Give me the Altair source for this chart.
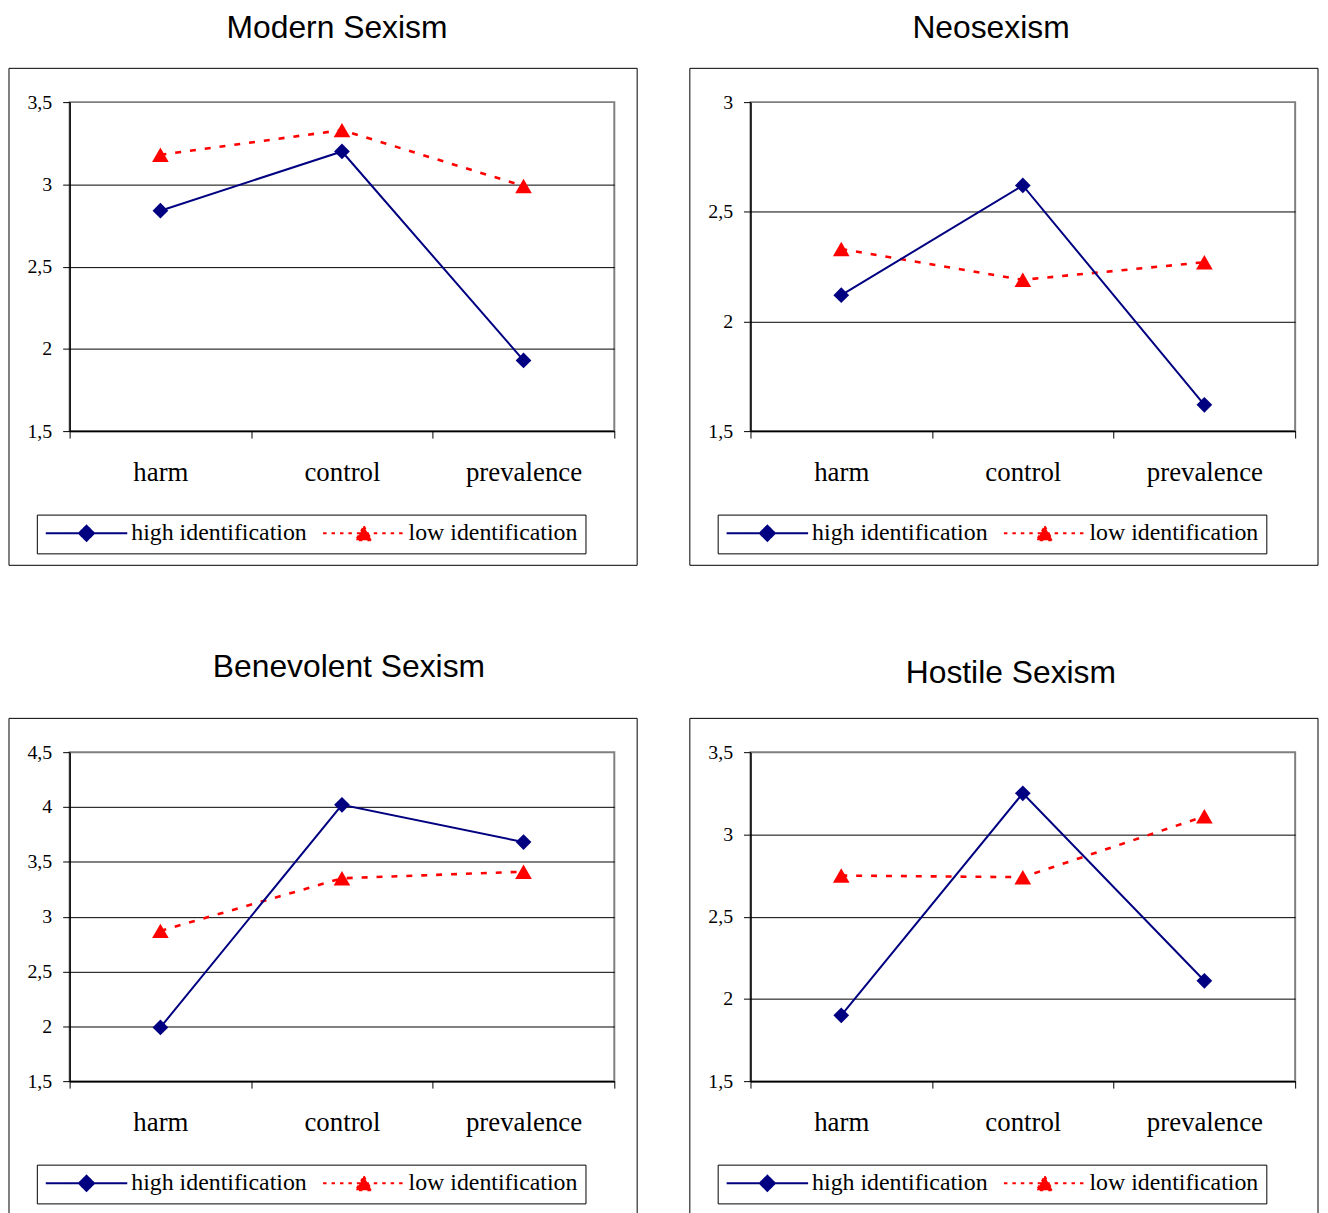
import altair as alt
import pandas as pd

# ---- data ----
categories = ["harm", "control", "prevalence"]
groups = ["high identification", "low identification"]

modern_high = [2.84, 3.20, 1.93]
modern_low = [3.18, 3.33, 2.99]
modern_ticks = [1.5, 2, 2.5, 3, 3.5]

neo_high = [2.12, 2.62, 1.62]
neo_low = [2.33, 2.19, 2.27]
neo_ticks = [1.5, 2, 2.5, 3]

benev_high = [1.99, 4.02, 3.68]
benev_low = [2.87, 3.35, 3.41]
benev_ticks = [1.5, 2, 2.5, 3, 3.5, 4, 4.5]

hostile_high = [1.90, 3.25, 2.11]
hostile_low = [2.75, 2.74, 3.11]
hostile_ticks = [1.5, 2, 2.5, 3, 3.5]

titles = ["Modern Sexism", "Neosexism", "Benevolent Sexism", "Hostile Sexism"]

# ---- styles ----
NAVY = "#000080"
RED = "#FF0000"
PLOT_DASH = [6, 9]
LEGEND_DASH = [3.5, 5]
W, H = 548, 331
SERIF = "Liberation Serif"
SANS = "Liberation Sans"

HIGH_PATH = "M-1,0L1,0M0,-0.185L0.185,0L0,0.185L-0.185,0Z"
LOW_PATH = "M-1,0L1,0M0,-0.17L0.195,0.17L-0.195,0.17Z"


def make_legend():
    return alt.Legend(
        title=None,
        orient="none",
        legendX=-33,
        legendY=415,
        direction="horizontal",
        padding=8,
        strokeColor="black",
        labelFont=SERIF,
        labelFontSize=24,
        labelColor="black",
        labelLimit=400,
        labelOffset=3,
        columnPadding=15,
        symbolSize=6724,
        symbolStrokeWidth=2,
        symbolOpacity=1,
        clipHeight=21,
    )


def panel(title, high, low, ticks, title_dx, title_dy):
    df = pd.DataFrame({
        "category": categories * 2,
        "group": [groups[0]] * 3 + [groups[1]] * 3,
        "value": list(high) + list(low),
    })
    ymax = ticks[-1]
    color_scale = alt.Scale(domain=groups, range=[NAVY, RED])
    dash_scale = alt.Scale(domain=groups, range=[[1, 0], LEGEND_DASH])
    base = alt.Chart(df).encode(
        x=alt.X(
            "category:N",
            sort=categories,
            bandPosition=0.5,
            scale=alt.Scale(type="band", paddingInner=0, paddingOuter=0),
            axis=alt.Axis(
                title=None, labelAngle=0, tickBand="extent", grid=False,
                labelFont=SERIF, labelFontSize=27, labelColor="black",
                tickSize=7, tickColor="black", tickWidth=1,
                domainColor="black", domainWidth=1.5, labelPadding=22,
            ),
        ),
        y=alt.Y(
            "value:Q",
            scale=alt.Scale(domain=[ticks[0], ymax], nice=False, zero=False),
            axis=alt.Axis(
                title=None, values=ticks,
                labelExpr="replace(format(datum.value, '~g'), '.', ',')",
                labelFont=SERIF, labelFontSize=20, labelColor="black",
                tickSize=7, tickColor="black", tickWidth=1,
                domainColor="black", domainWidth=1.5, labelPadding=11,
                grid=True, gridColor="black", gridWidth=1,
                gridOpacity={"condition": {"test": f"datum.value >= {ymax - 0.001}", "value": 0}, "value": 1},
            ),
        ),
    )
    high_data = base.transform_filter(alt.datum.group == groups[0])
    low_data = base.transform_filter(alt.datum.group == groups[1])
    line_high = high_data.mark_line(strokeWidth=2, color=NAVY)
    line_low = low_data.mark_line(strokeWidth=2.6, color=RED, strokeDash=PLOT_DASH)
    pts_high = high_data.mark_point(filled=True, opacity=1, size=250, shape="diamond", color=NAVY)
    pts_low = low_data.mark_point(filled=True, opacity=1, size=280, shape="triangle-up", color=RED)
    # legend carrier: draws nothing in the plot, only defines the legend entries
    legend_layer = base.transform_filter("false").mark_point(
        filled=True, opacity=1, strokeWidth=2
    ).encode(
        fill=alt.Fill("group:N", scale=color_scale, legend=make_legend()),
        stroke=alt.Stroke("group:N", scale=color_scale, legend=make_legend()),
        shape=alt.Shape("group:N", scale=alt.Scale(domain=groups, range=[HIGH_PATH, LOW_PATH]), legend=make_legend()),
        strokeDash=alt.StrokeDash("group:N", scale=dash_scale, legend=make_legend()),
    )
    frame = alt.Chart(alt.Data(values=[{"f": 1}])).mark_rect(
        fill="white", fillOpacity=0, stroke="black", strokeWidth=1
    ).encode(x=alt.value(-61), x2=alt.value(571), y=alt.value(-34), y2=alt.value(466))
    return alt.layer(frame, line_low, line_high, pts_high, pts_low, legend_layer).properties(
        width=W, height=H,
        title=alt.TitleParams(
            text=title, font=SANS, fontSize=32, fontWeight="normal", color="black",
            anchor="middle", frame="group", baseline="alphabetic",
            dx=title_dx, dy=title_dy, offset=0,
        ),
    )


p1 = panel(titles[0], modern_high, modern_low, modern_ticks, -5, 1.9)
p2 = panel(titles[1], neo_high, neo_low, neo_ticks, -32, 1.9)
p3 = panel(titles[2], benev_high, benev_low, benev_ticks, 7, -8.8)
p4 = panel(titles[3], hostile_high, hostile_low, hostile_ticks, -12, -2.8)

chart = alt.concat(
    p1, p2, p3, p4, columns=2, spacing={"row": 323, "column": 137}, bounds="flush"
).resolve_scale(
    fill="independent", stroke="independent", shape="independent", strokeDash="independent"
).resolve_legend(
    fill="independent", stroke="independent", shape="independent", strokeDash="independent"
).properties(
    padding={"left": -1, "top": -1, "right": 0, "bottom": 0},
    background="white",
).configure_view(
    stroke="#808080", strokeWidth=2
)

chart.save("out.html", embed_options={"renderer": "svg", "actions": False})
